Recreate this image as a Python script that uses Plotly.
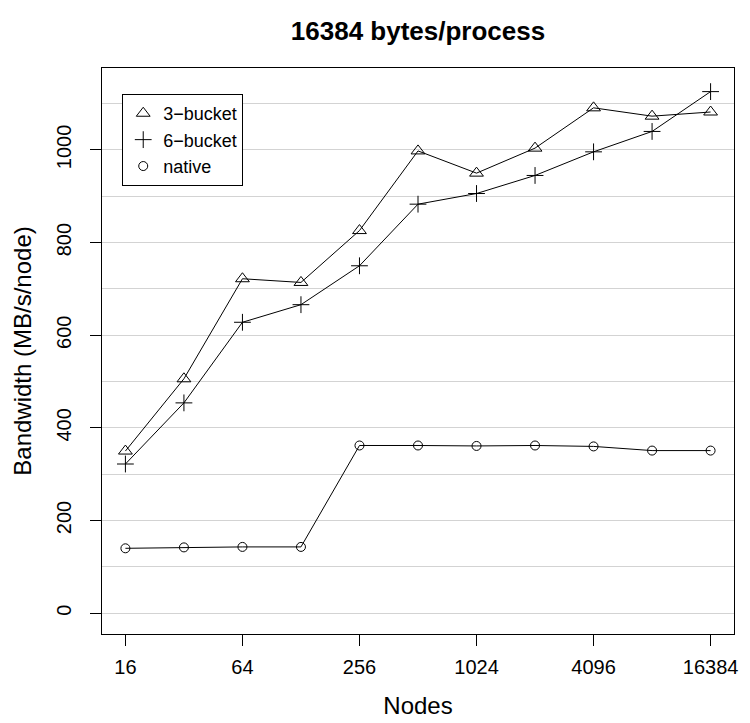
import math
import plotly.graph_objects as go

nodes = [16, 32, 64, 128, 256, 512, 1024, 2048, 4096, 8192, 16384]
bucket3 = [350, 506, 722, 714, 826, 998, 950, 1004, 1091, 1073, 1082]
bucket6 = [322, 454, 628, 666, 750, 883, 906, 945, 996, 1040, 1126]
native = [140, 142, 143, 143, 362, 362, 361, 362, 360, 351, 351]

x_tickvals = [16, 64, 256, 1024, 4096, 16384]
x_ticktext = ["16", "64", "256", "1024", "4096", "16384"]
y_tickvals = [0, 200, 400, 600, 800, 1000]

series = [
    ("3\u2212bucket", bucket3, "triangle-up-open", 12),
    ("6\u2212bucket", bucket6, "cross-thin-open", 12),
    ("native", native, "circle-open", 9),
]

FONT = "Liberation Sans, Arial, Helvetica, sans-serif"

fig = go.Figure()
for name, vals, sym, sz in series:
    fig.add_trace(go.Scatter(
        x=nodes, y=vals, mode="lines", showlegend=False,
        line=dict(color="black", width=1), hoverinfo="skip"))
    fig.add_trace(go.Scatter(
        x=nodes, y=vals, mode="markers", name=name,
        marker=dict(symbol=sym, size=sz, color="black",
                    line=dict(color="black", width=1))))

# the page body adds an 8px offset; margins compensate for it
fig.update_layout(
    template="none",
    width=750, height=723,
    margin=dict(l=94, r=24, t=60, b=97, autoexpand=False),
    paper_bgcolor="white", plot_bgcolor="white",
    font=dict(family=FONT, color="black", size=20),
    title=dict(text="<b>16384 bytes/process</b>", x=0.5, xref="paper",
               xanchor="center",
               y=1 - 23 / 723, yref="container", yanchor="middle",
               font=dict(size=26, family=FONT, color="black")),
    xaxis=dict(
        type="log", automargin=False,
        range=[3.6 * math.log10(2), 14.4 * math.log10(2)],
        tickmode="array", tickvals=x_tickvals, ticktext=x_ticktext,
        ticks="outside", ticklen=11, tickcolor="black", tickwidth=1,
        showgrid=False, zeroline=False,
        showline=True, linecolor="black", linewidth=1, mirror=True,
        tickfont=dict(size=20), ticklabelstandoff=4,
        title=dict(text="Nodes", font=dict(size=24), standoff=20),
    ),
    yaxis=dict(
        range=[-45, 1177], automargin=False,
        tickmode="array", tickvals=y_tickvals,
        ticks="outside", ticklen=11, tickcolor="black", tickwidth=1,
        tickangle=-90,
        showgrid=True, gridcolor="#D3D3D3", gridwidth=1,
        minor=dict(dtick=100, tick0=0, showgrid=True, gridcolor="#D3D3D3",
                   gridwidth=1, ticks=""),
        zeroline=False,
        showline=True, linecolor="black", linewidth=1, mirror=True,
        tickfont=dict(size=20), ticklabelstandoff=11,
        title=dict(text="Bandwidth (MB/s/node)", font=dict(size=24), standoff=14),
    ),
    legend=dict(
        x=0.032, y=0.954, xanchor="left", yanchor="top",
        bgcolor="white", bordercolor="black", borderwidth=1,
        font=dict(size=18, family=FONT),
        itemwidth=30, tracegroupgap=0,
    ),
    showlegend=True,
)

fig.write_html("out.html")
